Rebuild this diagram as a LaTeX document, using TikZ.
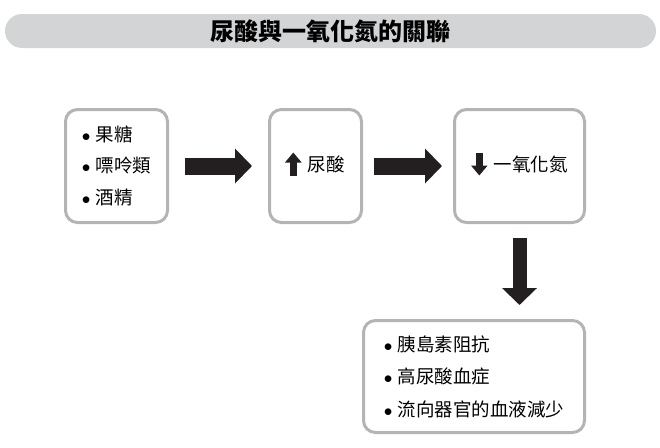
\documentclass[tikz,border=0pt]{standalone}
\usepackage{fontspec}
\setmainfont{Noto Sans CJK TC}
\usetikzlibrary{arrows.meta}
\definecolor{bargray}{HTML}{D3D4D6}
\definecolor{boxgray}{HTML}{B4B4B4}
\definecolor{inkblack}{HTML}{231F20}
\newcommand{\dotitem}{$\bullet$\hspace{5pt}}
\tikzset{ % common looks of the boxes and block arrows
	factbox/.style={
		draw=boxgray, line width=3pt, rounded corners=12pt, fill=white,
		inner sep=0pt, minimum height=113pt, align=left,
		font=\fontsize{18.5}{31.5}\selectfont
	},
	boxlabel/.style={inner sep=0pt, font=\fontsize{18.5}{18.5}\selectfont},
	bigarrow/.style={
		draw=inkblack, line width=17pt,
		-{Triangle[length=17pt,width=34pt]} % block arrow tip
	},
	markarrow/.style={
		draw=inkblack, line width=7pt,
		-{Triangle[length=10pt,width=16pt]}
	},
}
\begin{document}
\begin{tikzpicture}[x=1pt,y=-1pt]
		\useasboundingbox (0,0) rectangle (660,447);
		% Title bar
		\node (title) [fill=bargray, rounded corners=17pt, minimum width=651pt,
			minimum height=34pt, inner sep=0pt, font=\fontsize{24}{24}\selectfont\bfseries]
			at (330.5,31) {尿酸與一氧化氮的關聯};
		% Boxes
		\node (causes) [factbox, minimum width=102pt] at (116.5,166)
			{\dotitem 果糖\\ \dotitem 嘌呤類\\ \dotitem 酒精};
		\node (uric) [factbox, minimum width=92pt] at (315.5,166) {};
		\node (nitric) [factbox, minimum width=130pt] at (519.5,166) {};
		\node (effects) [factbox, minimum width=221pt, minimum height=112pt,
			font=\fontsize{18.5}{32.5}\selectfont] at (474,376.5)
			{\dotitem 胰島素阻抗\\ \dotitem 高尿酸血症\\ \dotitem 流向器官的血液減少};
		% Labels with up / down marks
		\node (uriclabel) [boxlabel] at (326,164.5) {尿酸};
		\node (nitriclabel) [boxlabel] at (530.5,164.5) {一氧化氮};
		\draw [markarrow] ([xshift=-14pt,yshift=-11pt]uriclabel.west) -- ([xshift=-14pt,yshift=12pt]uriclabel.west);
		\draw [markarrow] ([xshift=-14pt,yshift=12pt]nitriclabel.west) -- ([xshift=-14pt,yshift=-11pt]nitriclabel.west);
		% Block arrows
		\draw [bigarrow] ([xshift=16pt]causes.east) -- ([xshift=-16pt]uric.west);
		\draw [bigarrow] ([xshift=11pt]uric.east) -- ([xshift=-11pt]nitric.west);
		\path (nitric.south |- effects.north) coordinate (downend);
		\draw [bigarrow, line width=14pt] ([yshift=-14pt]nitric.south) -- ([yshift=14pt]downend);
		\end{tikzpicture}
\end{document}
